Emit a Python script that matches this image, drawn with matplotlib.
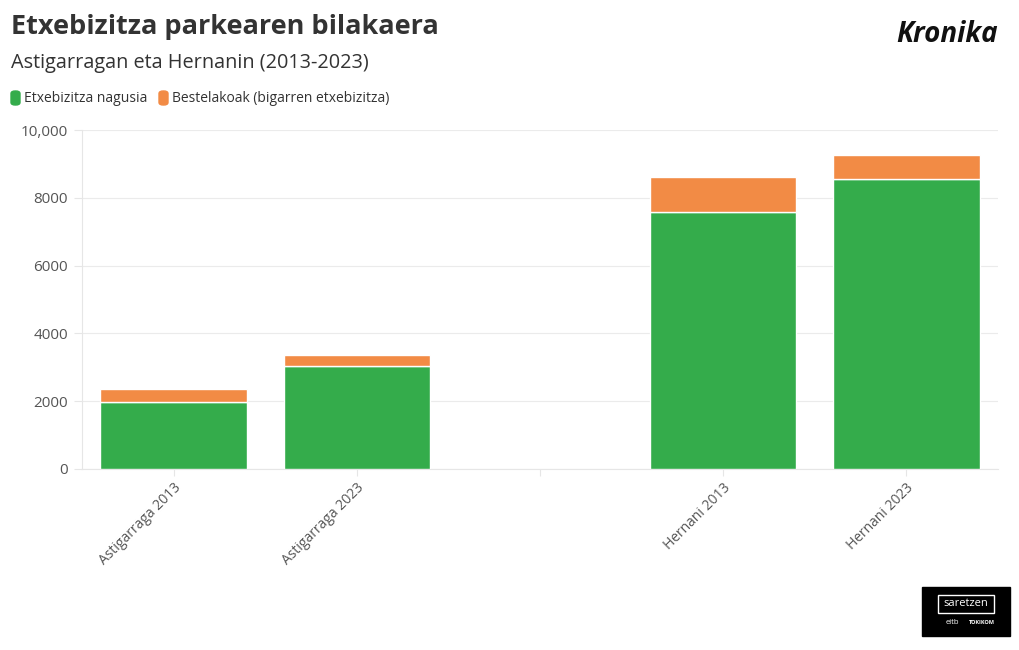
import numpy as np
import matplotlib.pyplot as plt
from matplotlib.patches import FancyBboxPatch, Rectangle

plt.rcParams['font.family'] = ['Open Sans', 'DejaVu Sans']

# datuak
categories = ['Astigarraga 2013', 'Astigarraga 2023', '', 'Hernani 2013', 'Hernani 2023']
nagusia = [1990, 3040, 0, 7590, 8560]
bestelakoak = [370, 325, 0, 1035, 700]
yticks = [0, 2000, 4000, 6000, 8000, 10000]
ytick_labels = ['0', '2000', '4000', '6000', '8000', '10,000']

green = '#34ac4b'
orange = '#f28b45'
text_col = '#333333'

fig = plt.figure(figsize=(10.2, 6.5), dpi=100)
ax = fig.add_axes([82 / 1020, 1 - 469 / 650, 916 / 1020, 339 / 650])

x = np.arange(len(categories))
ax.bar(x, nagusia, width=0.8, color=green, edgecolor='white', linewidth=1.0, zorder=3)
ax.bar(x, bestelakoak, bottom=nagusia, width=0.8, color=orange,
       edgecolor='white', linewidth=1.0, zorder=3)

ax.set_xlim(-0.5, len(categories) - 0.5)
ax.set_ylim(0, 10000)
ax.set_yticks(yticks)
ax.set_yticklabels(ytick_labels)
ax.set_xticks(x)
ax.set_xticklabels(categories, rotation=45, ha='right', rotation_mode='anchor')

ax.grid(axis='y', color='#ebebeb', linewidth=0.8, zorder=0)
for s in ['top', 'right']:
    ax.spines[s].set_visible(False)
ax.spines['left'].set_color('#e6e6e6')
ax.spines['bottom'].set_color('#e6e6e6')
ax.tick_params(axis='y', length=6, color='#e6e6e6', labelsize=11, labelcolor='#555555', pad=4)
ax.tick_params(axis='x', length=5, color='#e6e6e6', labelsize=10, labelcolor='#555555', pad=3)

# izenburua
fig.text(11 / 1020, 1 - 27 / 650, 'Etxebizitza parkearen bilakaera', fontsize=19.5, fontweight='bold',
         color=text_col, va='center', ha='left')
fig.text(11 / 1020, 1 - 63 / 650, 'Astigarragan eta Hernanin (2013-2023)', fontsize=14.3,
         color=text_col, va='center', ha='left')
fig.text(998 / 1020, 1 - 34 / 650, 'Kronika', fontsize=20, fontweight='bold', style='italic',
         color='#111111', va='center', ha='right')

# legenda
fig.patches.append(FancyBboxPatch((11 / 1020, 1 - 105 / 650), 9 / 1020, 14 / 650,
                                  boxstyle='round,pad=0,rounding_size=0.004',
                                  transform=fig.transFigure, color=green))
fig.text(24 / 1020, 1 - 98 / 650, 'Etxebizitza nagusia', fontsize=10, color=text_col, va='center')
fig.patches.append(FancyBboxPatch((159 / 1020, 1 - 105 / 650), 9 / 1020, 14 / 650,
                                  boxstyle='round,pad=0,rounding_size=0.004',
                                  transform=fig.transFigure, color=orange))
fig.text(172 / 1020, 1 - 98 / 650, 'Bestelakoak (bigarren etxebizitza)', fontsize=10,
         color=text_col, va='center')

# logoa
fig.patches.append(Rectangle((922 / 1020, 1 - 636 / 650), 88 / 1020, 49 / 650,
                             transform=fig.transFigure, color='black'))
fig.patches.append(Rectangle((938 / 1020, 1 - 613 / 650), 56 / 1020, 18 / 650,
                             transform=fig.transFigure, fill=False, edgecolor='white', linewidth=1))
fig.text(966 / 1020, 1 - 604 / 650, 'saretzen', fontsize=8, color='white', ha='center', va='center')
fig.text(952 / 1020, 1 - 622 / 650, 'eitb', fontsize=5.5, color='white', ha='center', va='center')
fig.text(982 / 1020, 1 - 622 / 650, 'TOKIKOM', fontsize=4, color='white', ha='center', va='center',
         fontweight='bold')

fig.savefig('out.png', dpi=100)
